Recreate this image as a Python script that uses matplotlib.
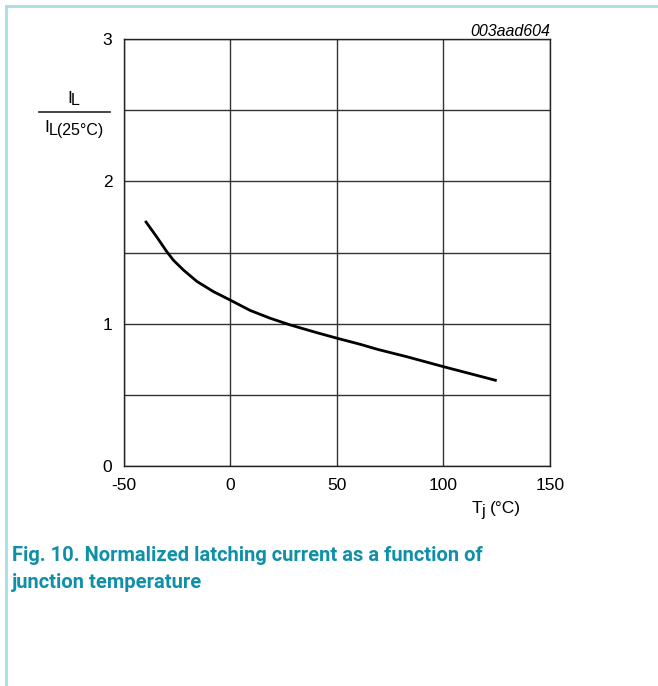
import matplotlib
matplotlib.use("Agg")
import matplotlib.pyplot as plt
from matplotlib.lines import Line2D

temps = [-39.8, -34.3, -29.7, -26.6, -21.9, -15.6, -7.8, 0, 9.4, 18.8, 28.2, 40.6, 50.3, 61, 69.5, 82.8, 100, 112, 125]
ratio = [1.722, 1.607, 1.506, 1.446, 1.377, 1.297, 1.225, 1.166, 1.093, 1.038, 0.991, 0.937, 0.897, 0.855, 0.818, 0.768, 0.698, 0.651, 0.60]
xticks = [-50, 0, 50, 100, 150]
yticks = [0, 1, 2, 3]
caption = "Fig. 10. Normalized latching current as a function of\njunction temperature"

base = "Liberation Sans"
plt.rcParams['font.family'] = [base, 'DejaVu Sans']
W, H = 658, 686
fig = plt.figure(figsize=(W/100, H/100), dpi=100)

# frame lines of the page
teal_light = "#a9dde6"
fig.add_artist(Line2D([6/W, 1], [1-6/H, 1-6/H], color=teal_light, lw=2, transform=fig.transFigure))
fig.add_artist(Line2D([6/W, 6/W], [0, 1-6/H], color=teal_light, lw=2, transform=fig.transFigure))

L, R, T, B = 123.5, 550, 39, 466
ax = fig.add_axes([L/W, 1-B/H, (R-L)/W, (B-T)/H])
ax.set_xlim(-50, 150)
ax.set_ylim(0, 3)
ax.set_xticks(xticks)
ax.set_yticks(yticks)
ax.set_yticks([0.5, 1.5, 2.5], minor=True)
ax.grid(True, which='both', color='#333333', lw=1)
ax.tick_params(which='both', length=0, labelsize=12.5)
ax.tick_params(axis='x', pad=9)
ax.tick_params(axis='y', pad=8)
ax.set_xticklabels([str(v) for v in xticks])
ax.set_yticklabels([str(v) for v in yticks])
for s in ax.spines.values():
    s.set_color('#222222'); s.set_linewidth(1)
ax.plot(temps, ratio, color='black', lw=2.0, solid_capstyle='butt', solid_joinstyle='round')

def px(x, y):
    return x/W, 1-y/H

# y label fraction (manual sub-scripts)
fig.text(*px(67, 103), 'I', ha='left', va='baseline', fontsize=12.5)
fig.text(*px(70.5, 105), 'L', ha='left', va='baseline', fontsize=11.5)
fig.add_artist(Line2D([39/W, 110/W], [1-112/H, 1-112/H], color='#222222', lw=1.2, transform=fig.transFigure))
fig.text(*px(44.5, 132), 'I', ha='left', va='baseline', fontsize=12.5)
fig.text(*px(48.5, 135), 'L(25°C)', ha='left', va='baseline', fontsize=11.5)

fig.text(*px(550, 31), '003aad604', ha='right', va='center', fontsize=11.5, style='italic')
fig.text(*px(471.5, 513), 'T', ha='left', va='baseline', fontsize=12.5)
fig.text(*px(481, 516), 'j', ha='left', va='baseline', fontsize=11.5)
fig.text(*px(490, 513), '(°C)', ha='left', va='baseline', fontsize=12.5)

fig.text(*px(12, 569), caption, ha='left', va='center', fontsize=14.5, fontweight='bold',
         family=['Roboto', 'DejaVu Sans'], color='#1090a8', linespacing=1.55)

fig.savefig('out.png', dpi=100)
